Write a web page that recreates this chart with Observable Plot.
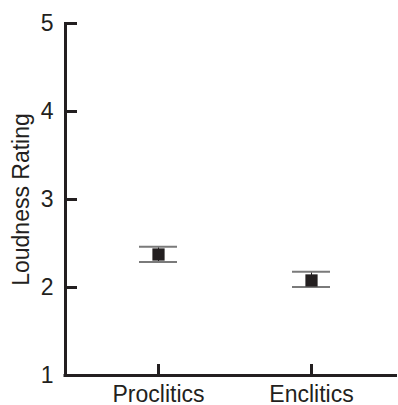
<!DOCTYPE html>
<html>
<head>
<meta charset="utf-8">
<script src="https://cdn.jsdelivr.net/npm/d3@7"></script>
<script src="https://cdn.jsdelivr.net/npm/@observablehq/plot@0.6"></script>
<style>
  html, body { margin: 0; padding: 0; background: #fff; }
  #chart svg { display: block; }
</style>
</head>
<body>
<div id="chart"></div>
<script>
const categories = ["Proclitics", "Enclitics"];
const means = [2.375, 2.08];
const upper = [2.462, 2.18];
const lower = [2.29, 2.005];
const yTicks = [1, 2, 3, 4, 5];

const data = categories.map((c, i) => ({cat: c, mean: means[i], hi: upper[i], lo: lower[i]}));
const ink = "#231f20";
const font = "Liberation Sans, Arial, Helvetica, sans-serif";

const chart = Plot.plot({
  width: 398,
  height: 405,
  marginLeft: 65,
  marginRight: 1,
  marginTop: 23,
  marginBottom: 30,
  style: {fontFamily: font, fontSize: "23px", color: ink, background: "#fff"},
  x: {type: "point", domain: categories, padding: 0.578, align: 0.517},
  y: {domain: [1, 5]},
  marks: [
    Plot.frame({anchor: "left", stroke: ink, strokeWidth: 3}),
    Plot.ruleY([yTicks[0]], {stroke: ink, strokeWidth: 3, insetLeft: -1.5}),
    Plot.axisY({ticks: yTicks, tickSize: -12, tickPadding: 24, tickFormat: d => String(d),
      stroke: ink, strokeWidth: 3, fill: ink, fontSize: 23, label: null}),
    Plot.axisX({tickSize: -11, tickPadding: 21, stroke: ink, strokeWidth: 3,
      fill: ink, fontSize: 23, label: null}),
    // y label
    Plot.text(["Loudness Rating"], {
      frameAnchor: "left", rotate: -90, dx: -37, fontSize: 23, fill: ink,
      textAnchor: "middle", lineAnchor: "bottom"
    }),
    // error bars
    Plot.ruleX(data, {x: "cat", y1: "lo", y2: "hi", stroke: ink, strokeWidth: 1}),
    Plot.ruleY(data, {x1: "cat", x2: "cat", y: "hi", insetLeft: -19, insetRight: -19, stroke: "#7a7a7a", strokeWidth: 2}),
    Plot.ruleY(data, {x1: "cat", x2: "cat", y: "lo", insetLeft: -19, insetRight: -19, stroke: "#7a7a7a", strokeWidth: 2}),
    Plot.dot(data, {x: "cat", y: "mean", symbol: "square", r: 6.9, fill: ink, stroke: "none"})
  ]
});
document.getElementById("chart").appendChild(chart);
</script>
</body>
</html>
